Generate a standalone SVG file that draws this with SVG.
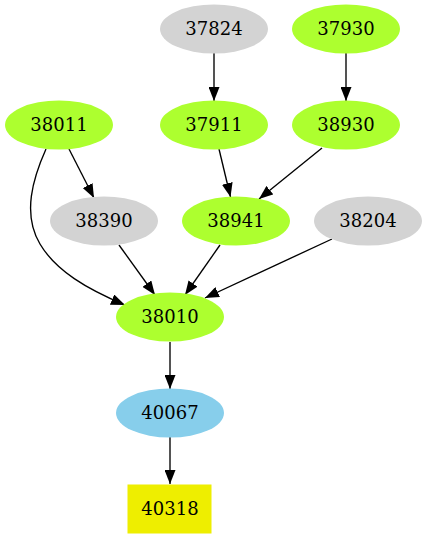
<svg xmlns="http://www.w3.org/2000/svg" width="427" height="539" viewBox="0 0 427 539">
<style>
.n text{font-family:"DejaVu Serif",serif;font-size:18px;text-anchor:middle;fill:#000}
.g{fill:#adff2f}
.y{fill:#d3d3d3}
.b{fill:#87ceeb}
.e path,.e line{stroke:#000;stroke-width:1.35;fill:none;marker-end:url(#ah)}
</style>
<defs>
<marker id="ah" markerUnits="userSpaceOnUse" markerWidth="14" markerHeight="11" refX="14" refY="5.5" orient="auto">
<path d="M0,0 L14,5.5 L0,11 z" fill="#000"/>
</marker>
</defs>
<rect width="427" height="539" fill="#fff"/>
<g class="e" id="edges">
<line x1="214" y1="53" x2="214" y2="101"/>
<line x1="346" y1="53" x2="346" y2="101"/>
<line x1="69" y1="149" x2="94" y2="198"/>
<path d="M46,149 C33,178 22,214 40,244 C56,271 87,289 125,305"/>
<line x1="219" y1="149" x2="230.5" y2="197"/>
<line x1="322" y1="148" x2="259" y2="199"/>
<line x1="119" y1="245" x2="155" y2="295"/>
<line x1="220" y1="245" x2="185" y2="295"/>
<line x1="332" y1="239" x2="205" y2="298"/>
<line x1="170" y1="342" x2="170" y2="389"/>
<line x1="170" y1="437" x2="170" y2="484"/>
</g>
<g class="n" id="n37824"><ellipse class="y" cx="214" cy="29" rx="54" ry="24.5"/><text x="214" y="35">37824</text></g>
<g class="n" id="n37930"><ellipse class="g" cx="346" cy="29" rx="54" ry="24.5"/><text x="346" y="35">37930</text></g>
<g class="n" id="n38011"><ellipse class="g" cx="59" cy="125" rx="54" ry="24.5"/><text x="59" y="131">38011</text></g>
<g class="n" id="n37911"><ellipse class="g" cx="214" cy="125" rx="54" ry="24.5"/><text x="214" y="131">37911</text></g>
<g class="n" id="n38930"><ellipse class="g" cx="346" cy="125" rx="54" ry="24.5"/><text x="346" y="131">38930</text></g>
<g class="n" id="n38390"><ellipse class="y" cx="104" cy="221" rx="54" ry="24.5"/><text x="104" y="227">38390</text></g>
<g class="n" id="n38941"><ellipse class="g" cx="236" cy="221" rx="54" ry="24.5"/><text x="236" y="227">38941</text></g>
<g class="n" id="n38204"><ellipse class="y" cx="368" cy="221" rx="54" ry="24.5"/><text x="368" y="227">38204</text></g>
<g class="n" id="n38010"><ellipse class="g" cx="170" cy="317" rx="54" ry="24.5"/><text x="170" y="323">38010</text></g>
<g class="n" id="n40067"><ellipse class="b" cx="170" cy="413" rx="54" ry="24.5"/><text x="170" y="419">40067</text></g>
<g class="n" id="n40318"><rect x="127.5" y="484.5" width="84" height="49" fill="#eeee00"/><text x="170" y="515">40318</text></g>
</svg>
